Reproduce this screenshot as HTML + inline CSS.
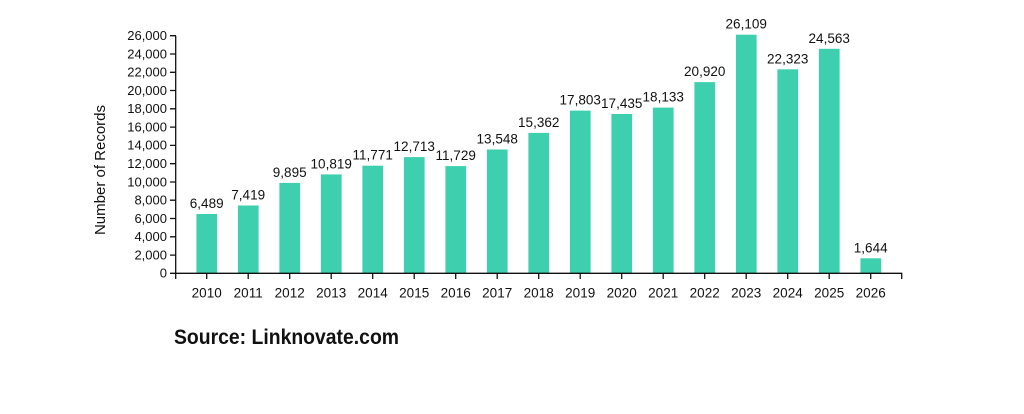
<!DOCTYPE html>
<html><head><meta charset="utf-8"><style>
html,body{margin:0;padding:0;background:#fff;}
svg{display:block;}
text{font-family:"Liberation Sans",Arial,sans-serif;fill:#111;}
</style></head><body>
<svg width="1024" height="414" viewBox="0 0 1024 414">
<g fill="#3ecfaf">
<rect x="196.4" y="214.0" width="20.7" height="59.3"/>
<rect x="237.9" y="205.5" width="20.7" height="67.8"/>
<rect x="279.4" y="182.9" width="20.7" height="90.4"/>
<rect x="320.9" y="174.4" width="20.7" height="98.9"/>
<rect x="362.4" y="165.7" width="20.7" height="107.6"/>
<rect x="403.9" y="157.1" width="20.7" height="116.2"/>
<rect x="445.4" y="166.1" width="20.7" height="107.2"/>
<rect x="486.9" y="149.5" width="20.7" height="123.8"/>
<rect x="528.4" y="132.9" width="20.7" height="140.4"/>
<rect x="569.9" y="110.6" width="20.7" height="162.7"/>
<rect x="611.4" y="114.0" width="20.7" height="159.3"/>
<rect x="652.9" y="107.6" width="20.7" height="165.7"/>
<rect x="694.4" y="82.1" width="20.7" height="191.2"/>
<rect x="735.9" y="34.7" width="20.7" height="238.6"/>
<rect x="777.4" y="69.3" width="20.7" height="204.0"/>
<rect x="818.9" y="48.8" width="20.7" height="224.5"/>
<rect x="860.4" y="258.3" width="20.7" height="15.0"/>
</g>
<g font-size="13.5" text-anchor="middle">
<text x="206.7" y="208">6,489</text>
<text x="248.2" y="199.5">7,419</text>
<text x="289.7" y="177">9,895</text>
<text x="331.2" y="168.4">10,819</text>
<text x="372.7" y="159.7">11,771</text>
<text x="414.2" y="151.1">12,713</text>
<text x="455.7" y="160.1">11,729</text>
<text x="497.2" y="143.5">13,548</text>
<text x="538.7" y="126.9">15,362</text>
<text x="580.2" y="104.6">17,803</text>
<text x="621.7" y="108">17,435</text>
<text x="663.2" y="101.6">18,133</text>
<text x="704.7" y="76.1">20,920</text>
<text x="746.2" y="28.7">26,109</text>
<text x="787.7" y="63.3">22,323</text>
<text x="829.2" y="42.8">24,563</text>
<text x="870.7" y="252.3">1,644</text>
</g>
<g stroke="#111" stroke-width="1.3" fill="none">
<path d="M175.7 35.7V279M170 273.3H901.7V279"/>
<path d="M170 35.7h6M170 54h6M170 72.3h6M170 90.5h6M170 108.8h6M170 127.1h6M170 145.4h6M170 163.7h6M170 182h6M170 200.2h6M170 218.5h6M170 236.8h6M170 255.1h6"/>
<path d="M206.7 273v6M248.2 273v6M289.7 273v6M331.2 273v6M372.7 273v6M414.2 273v6M455.7 273v6M497.2 273v6M538.7 273v6M580.2 273v6M621.7 273v6M663.2 273v6M704.7 273v6M746.2 273v6M787.7 273v6M829.2 273v6M870.7 273v6"/>
</g>
<g font-size="13" text-anchor="end">
<text x="167" y="40">26,000</text>
<text x="167" y="58.3">24,000</text>
<text x="167" y="76.6">22,000</text>
<text x="167" y="94.8">20,000</text>
<text x="167" y="113.1">18,000</text>
<text x="167" y="131.4">16,000</text>
<text x="167" y="149.7">14,000</text>
<text x="167" y="168">12,000</text>
<text x="167" y="186.3">10,000</text>
<text x="167" y="204.5">8,000</text>
<text x="167" y="222.8">6,000</text>
<text x="167" y="241.1">4,000</text>
<text x="167" y="259.4">2,000</text>
<text x="167" y="277.6">0</text>
</g>
<text transform="translate(105 170) rotate(-90)" font-size="15" text-anchor="middle">Number of Records</text>
<g font-size="13.5" text-anchor="middle">
<text x="206.7" y="297.5">2010</text><text x="248.2" y="297.5">2011</text><text x="289.7" y="297.5">2012</text><text x="331.2" y="297.5">2013</text><text x="372.7" y="297.5">2014</text><text x="414.2" y="297.5">2015</text><text x="455.7" y="297.5">2016</text><text x="497.2" y="297.5">2017</text><text x="538.7" y="297.5">2018</text><text x="580.2" y="297.5">2019</text><text x="621.7" y="297.5">2020</text><text x="663.2" y="297.5">2021</text><text x="704.7" y="297.5">2022</text><text x="746.2" y="297.5">2023</text><text x="787.7" y="297.5">2024</text><text x="829.2" y="297.5">2025</text><text x="870.7" y="297.5">2026</text>
</g>
<text x="174" y="344" font-size="21" font-weight="bold" textLength="225" lengthAdjust="spacingAndGlyphs">Source: Linknovate.com</text>
</svg>
</body></html>
